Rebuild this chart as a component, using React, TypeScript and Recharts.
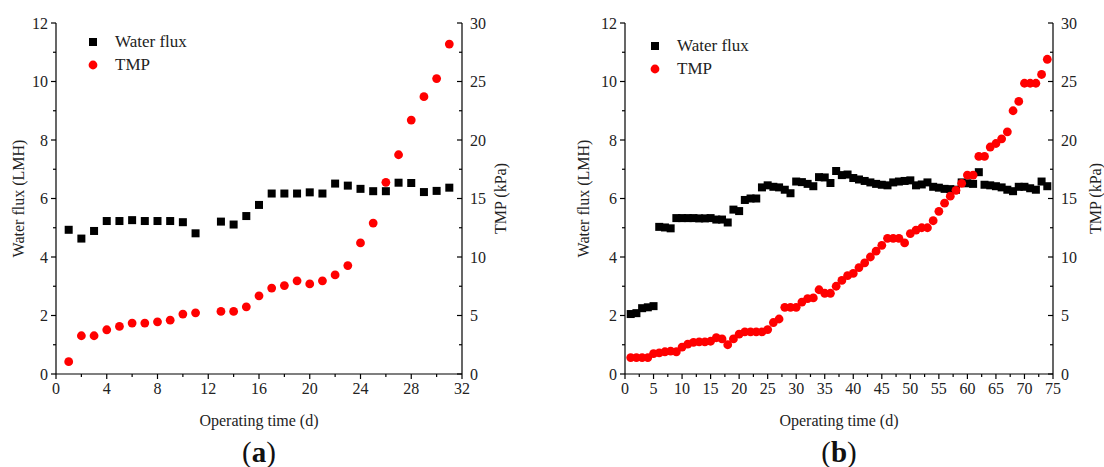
import { ScatterChart, Scatter, XAxis, YAxis, Legend } from 'recharts';

// panel (a): days 1-31, day 12 missing
const daysA = [1, 2, 3, 4, 5, 6, 7, 8, 9, 10, 11, 13, 14, 15, 16, 17, 18, 19, 20, 21, 22, 23, 24, 25, 26, 27, 28, 29, 30, 31];
const fluxA = [4.93, 4.63, 4.89, 5.23, 5.23, 5.26, 5.23, 5.23, 5.23, 5.19, 4.81, 5.21, 5.11, 5.4, 5.78, 6.17, 6.17, 6.17, 6.21, 6.17, 6.51, 6.44, 6.33, 6.25, 6.25, 6.54, 6.53, 6.22, 6.26, 6.37];
const tmpA = [1.05, 3.27, 3.27, 3.78, 4.07, 4.35, 4.35, 4.46, 4.6, 5.12, 5.23, 5.35, 5.35, 5.74, 6.68, 7.34, 7.56, 7.96, 7.7, 7.96, 8.47, 9.27, 11.2, 12.9, 16.38, 18.74, 21.7, 23.7, 25.25, 28.2];

// panel (b): days 1-74
const daysB = [1, 2, 3, 4, 5, 6, 7, 8, 9, 10, 11, 12, 13, 14, 15, 16, 17, 18, 19, 20, 21, 22, 23, 24, 25, 26, 27, 28, 29, 30, 31, 32, 33, 34, 35, 36, 37, 38, 39, 40, 41, 42, 43, 44, 45, 46, 47, 48, 49, 50, 51, 52, 53, 54, 55, 56, 57, 58, 59, 60, 61, 62, 63, 64, 65, 66, 67, 68, 69, 70, 71, 72, 73, 74];
const fluxB = [2.05, 2.08, 2.25, 2.28, 2.32, 5.03, 5.01, 4.98, 5.33, 5.33, 5.33, 5.33, 5.32, 5.32, 5.33, 5.28, 5.28, 5.18, 5.62, 5.57, 5.95, 6.0, 6.0, 6.38, 6.45, 6.4, 6.38, 6.3, 6.18, 6.58, 6.56, 6.5, 6.42, 6.73, 6.72, 6.53, 6.94, 6.8, 6.82, 6.7, 6.65, 6.6, 6.55, 6.5, 6.47, 6.45, 6.55, 6.58, 6.6, 6.62, 6.45, 6.48, 6.55, 6.4, 6.37, 6.33, 6.32, 6.3, 6.55, 6.52, 6.5, 6.9, 6.47, 6.45, 6.42, 6.38, 6.3, 6.25, 6.4, 6.4, 6.35, 6.3, 6.58, 6.42];
const tmpB = [1.4, 1.4, 1.4, 1.4, 1.75, 1.8, 1.9, 1.95, 1.9, 2.3, 2.55, 2.7, 2.75, 2.75, 2.8, 3.1, 3.0, 2.5, 3.0, 3.4, 3.6, 3.6, 3.6, 3.6, 3.8, 4.4, 4.7, 5.7, 5.7, 5.7, 6.15, 6.45, 6.5, 7.2, 6.9, 6.9, 7.5, 8.0, 8.4, 8.6, 9.1, 9.5, 10.0, 10.5, 11.0, 11.6, 11.6, 11.6, 11.2, 12.0, 12.3, 12.5, 12.5, 13.1, 13.9, 14.6, 15.2, 15.7, 16.3, 17.0, 17.0, 18.6, 18.6, 19.4, 19.7, 20.1, 20.7, 22.5, 23.3, 24.85, 24.85, 24.85, 25.6, 26.9];

// ticks (majors get a label, the rest are minor)
const xTicksA = [0, 2, 4, 6, 8, 10, 12, 14, 16, 18, 20, 22, 24, 26, 28, 30, 32];
const xLabelsA = [0, 4, 8, 12, 16, 20, 24, 28, 32];
const xTicksB = [0, 2.5, 5, 7.5, 10, 12.5, 15, 17.5, 20, 22.5, 25, 27.5, 30, 32.5, 35, 37.5, 40, 42.5, 45, 47.5, 50, 52.5, 55, 57.5, 60, 62.5, 65, 67.5, 70, 72.5, 75];
const xLabelsB = [0, 5, 10, 15, 20, 25, 30, 35, 40, 45, 50, 55, 60, 65, 70, 75];
const fluxTicks = [0, 1, 2, 3, 4, 5, 6, 7, 8, 9, 10, 11, 12];
const fluxLabels = [0, 2, 4, 6, 8, 10, 12];
const tmpTicks = [0, 2.5, 5, 7.5, 10, 12.5, 15, 17.5, 20, 22.5, 25, 27.5, 30];
const tmpLabels = [0, 5, 10, 15, 20, 25, 30];

const FONT = '"Liberation Serif", "Times New Roman", serif';
const W = 552;
const H = 467;
const TOP = 23;
const BOTTOM = 374;
const TXT = '#222';

const square = (p: any) => <rect x={p.cx - 4} y={p.cy - 4} width={8} height={8} fill="#000" />;
const dot = (p: any) => <circle cx={p.cx} cy={p.cy} r={4.4} fill="#ff0000" />;

function makeLeftTick(labels: number[]) {
  return (p: any) => {
    const major = labels.includes(p.payload.value);
    return (
      <g>
        <line x1={p.x - (major ? 5 : 3)} x2={p.x} y1={p.y} y2={p.y} stroke="#000" strokeWidth={1.2} />
        {major && (
          <text x={p.x - 8} y={p.y} dy="0.35em" textAnchor="end" fontSize={16} fontFamily={FONT} fill={TXT}>{p.payload.value}</text>
        )}
      </g>
    );
  };
}

function makeRightTick(labels: number[]) {
  return (p: any) => {
    const major = labels.includes(p.payload.value);
    return (
      <g>
        <line x1={p.x - (major ? 5 : 3)} x2={p.x} y1={p.y} y2={p.y} stroke="#000" strokeWidth={1.2} />
        {major && (
          <text x={p.x + 8} y={p.y} dy="0.35em" textAnchor="start" fontSize={16} fontFamily={FONT} fill={TXT}>{p.payload.value}</text>
        )}
      </g>
    );
  };
}

function makeBottomTick(labels: number[]) {
  return (p: any) => {
    const major = labels.includes(p.payload.value);
    return (
      <g>
        <line x1={p.x} x2={p.x} y1={p.y} y2={p.y + (major ? 5 : 3)} stroke="#000" strokeWidth={1.2} />
        {major && (
          <text x={p.x} y={p.y + 20} textAnchor="middle" fontSize={16} fontFamily={FONT} fill={TXT}>{p.payload.value}</text>
        )}
      </g>
    );
  };
}

function LegendBox() {
  const row = { display: 'flex', alignItems: 'center', height: 23, fontFamily: FONT, fontSize: 17, color: TXT, whiteSpace: 'nowrap' as const };
  return (
    <div>
      <div style={row}>
        <svg width={12} height={12} style={{ marginRight: 16 }}><rect x={2} y={2} width={8} height={8} fill="#000" /></svg>
        Water flux
      </div>
      <div style={row}>
        <svg width={12} height={12} style={{ marginRight: 16 }}><circle cx={6} cy={6} r={4.4} fill="#ff0000" /></svg>
        TMP
      </div>
    </div>
  );
}

interface PanelProps {
  days: number[];
  flux: number[];
  tmp: number[];
  xMax: number;
  xTicks: number[];
  xLabels: number[];
  plotLeft: number;
  plotRight: number;
  fluxTitleX: number;
  tmpTitleX: number;
  legendX: number;
  legendY: number;
  letter: string;
}

function Panel(props: PanelProps) {
  const { days, flux, tmp, xMax, xTicks, xLabels, plotLeft, plotRight, fluxTitleX, tmpTitleX, legendX, legendY, letter } = props;
  const fluxPts = days.map((d, i) => ({ x: d, y: flux[i] }));
  const tmpPts = days.map((d, i) => ({ x: d, y: tmp[i] }));
  const midY = (TOP + BOTTOM) / 2;
  const midX = (plotLeft + plotRight) / 2;

  return (
    <ScatterChart width={W} height={H} margin={{ top: TOP, right: 0, bottom: 0, left: 0 }}>
      <XAxis
        xAxisId="top"
        orientation="top"
        type="number"
        dataKey="x"
        domain={[0, xMax]}
        height={0}
        tick={false}
        tickLine={false}
        axisLine={{ stroke: '#000', strokeWidth: 1.2 }}
      />
      <XAxis
        type="number"
        dataKey="x"
        domain={[0, xMax]}
        ticks={xTicks}
        interval={0}
        height={H - BOTTOM}
        tickSize={0}
        tickMargin={0}
        tickLine={false}
        tick={makeBottomTick(xLabels)}
        axisLine={{ stroke: '#000', strokeWidth: 1.2 }}
        label={{
          content: () => (
            <g>
              <text x={midX} y={BOTTOM + 52} textAnchor="middle" fontSize={16} fontFamily={FONT} fill={TXT}>Operating time (d)</text>
              <text x={midX} y={BOTTOM + 88} textAnchor="middle" fontSize={29} fontFamily={FONT} fill="#111">
                (<tspan fontWeight="bold">{letter}</tspan>)
              </text>
            </g>
          ),
        }}
      />
      <YAxis
        yAxisId="flux"
        type="number"
        dataKey="y"
        domain={[0, 12]}
        ticks={fluxTicks}
        interval={0}
        width={plotLeft}
        tickSize={0}
        tickMargin={0}
        tickLine={false}
        tick={makeLeftTick(fluxLabels)}
        axisLine={{ stroke: '#000', strokeWidth: 1.2 }}
        label={{
          content: () => (
            <text x={fluxTitleX} y={midY} dy="0.35em" textAnchor="middle" transform={`rotate(-90 ${fluxTitleX} ${midY})`} fontSize={16} fontFamily={FONT} fill={TXT}>Water flux (LMH)</text>
          ),
        }}
      />
      <YAxis
        yAxisId="tmp"
        orientation="right"
        type="number"
        dataKey="y"
        domain={[0, 30]}
        ticks={tmpTicks}
        interval={0}
        width={W - plotRight}
        tickSize={0}
        tickMargin={0}
        tickLine={false}
        tick={makeRightTick(tmpLabels)}
        axisLine={{ stroke: '#000', strokeWidth: 1.2 }}
        label={{
          content: () => (
            <text x={tmpTitleX} y={midY} dy="0.35em" textAnchor="middle" transform={`rotate(-90 ${tmpTitleX} ${midY})`} fontSize={16} fontFamily={FONT} fill={TXT}>TMP (kPa)</text>
          ),
        }}
      />
      <Legend
        layout="horizontal"
        verticalAlign="middle"
        align="center"
        content={() => <LegendBox />}
        wrapperStyle={{ left: legendX - 6, top: legendY - 11.5, width: 140 }}
      />
      <Scatter name="Water flux" data={fluxPts} yAxisId="flux" shape={square} isAnimationActive={false} />
      <Scatter name="TMP" data={tmpPts} yAxisId="tmp" shape={dot} isAnimationActive={false} />
    </ScatterChart>
  );
}

export default function App() {
  return (
    <div style={{ position: 'absolute', left: 0, top: 0, width: 1104, height: 467, background: '#fff', display: 'flex' }}>
      <Panel
        days={daysA}
        flux={fluxA}
        tmp={tmpA}
        xMax={32}
        xTicks={xTicksA}
        xLabels={xLabelsA}
        plotLeft={56}
        plotRight={462}
        fluxTitleX={18}
        tmpTitleX={500}
        legendX={93}
        legendY={42}
        letter="a"
      />
      <Panel
        days={daysB}
        flux={fluxB}
        tmp={tmpB}
        xMax={75}
        xTicks={xTicksB}
        xLabels={xLabelsB}
        plotLeft={73}
        plotRight={501}
        fluxTitleX={31}
        tmpTitleX={543}
        legendX={103}
        legendY={46}
        letter="b"
      />
    </div>
  );
}
